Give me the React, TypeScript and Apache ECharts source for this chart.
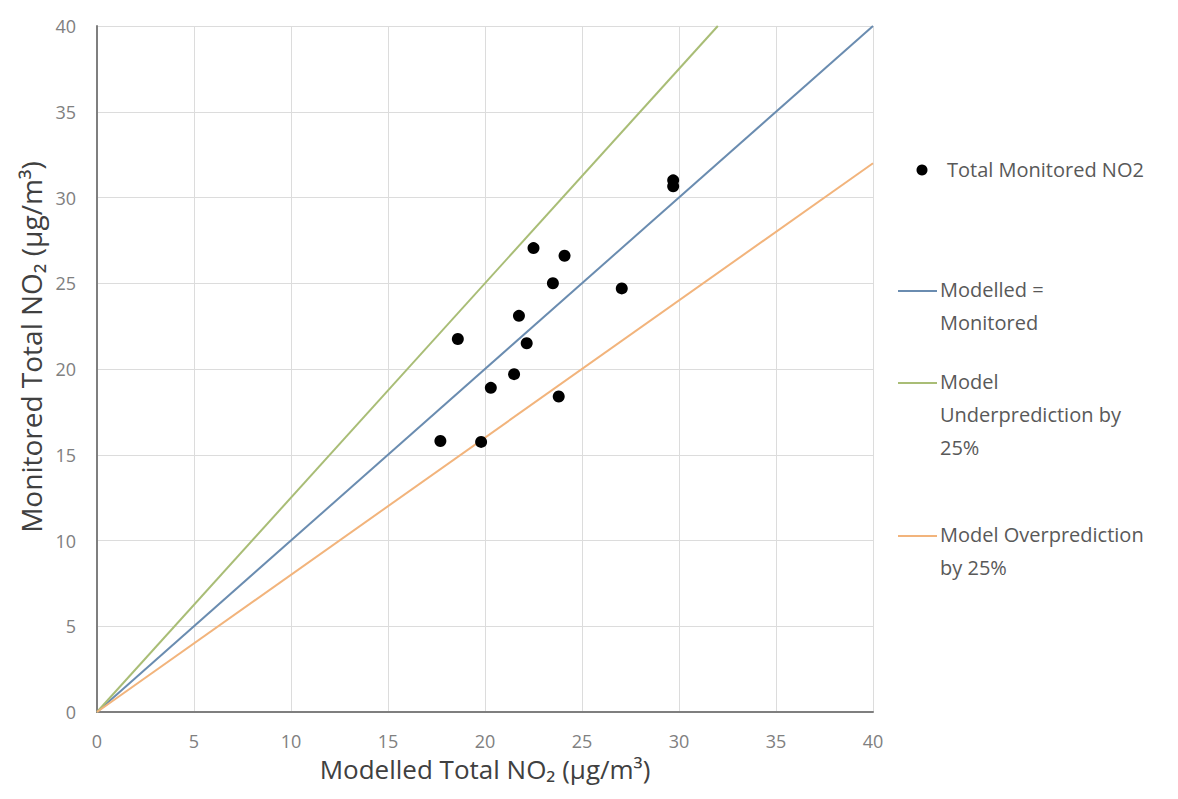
import React, { useEffect, useRef } from "react";
import * as echarts from "echarts";

const modelled = [22.5, 24.1, 23.5, 27.05, 21.75, 18.6, 22.15, 21.5, 20.3, 23.8, 17.7, 19.8, 29.7, 29.7];
const monitored = [27.05, 26.6, 25.0, 24.7, 23.1, 21.75, 21.5, 19.7, 18.9, 18.4, 15.8, 15.75, 31.0, 30.65];

const equalLine = [[0, 0], [40, 40]];
const underLine = [[0, 0], [32, 40]];
const overLine = [[0, 0], [40, 32]];

const seriesNames = ["Total Monitored NO2", "Modelled =\nMonitored", "Model\nUnderprediction by\n25%", "Model Overprediction\nby 25%"];

const COL_DOT = "#000000";
const COL_EQ = "#6a8cb0";
const COL_UNDER = "#a9bd76";
const COL_OVER = "#f2b47c";

const FONT = "'Open Sans', 'Noto Sans', sans-serif";

export default function App() {
  const ref = useRef<HTMLDivElement>(null);
  useEffect(() => {
    if (!ref.current) return;
    const chart = echarts.init(ref.current, undefined, { renderer: "svg" });
    const points = modelled.map((m, i) => [m, monitored[i]]);
    const legendText = (x: number, y: number, text: string) => ({
      type: "text",
      left: x,
      top: y,
      style: { text, font: `20px ${FONT}`, fill: "#595959", lineHeight: 33 },
    });
    const legendLine = (y: number, color: string) => ({
      type: "line",
      shape: { x1: 898, y1: y, x2: 937, y2: y },
      style: { stroke: color, lineWidth: 2 },
    });
    chart.setOption({
      animation: false,
      backgroundColor: "#ffffff",
      grid: { left: 97, right: 305, top: 26, bottom: 87 },
      xAxis: {
        type: "value",
        min: 0,
        max: 40,
        interval: 5,
        name: "Modelled Total NO₂ (µg/m³)",
        nameLocation: "middle",
        nameGap: 44,
        nameTextStyle: { fontFamily: FONT, fontSize: 26, color: "#404040" },
        axisLine: { show: true, lineStyle: { color: "#7f7f7f", width: 2 } },
        axisTick: { show: false },
        axisLabel: { fontFamily: FONT, fontSize: 18, color: "#808080", margin: 20 },
        splitLine: { show: true, lineStyle: { color: "#dcdcdc", width: 1 } },
      },
      yAxis: {
        type: "value",
        min: 0,
        max: 40,
        interval: 5,
        name: "Monitored Total NO₂ (µg/m³)",
        nameLocation: "middle",
        nameGap: 52,
        nameTextStyle: { fontFamily: FONT, fontSize: 28, color: "#404040", padding: [0, 0, 0, 44] },
        axisLine: { show: true, lineStyle: { color: "#7f7f7f", width: 2 } },
        axisTick: { show: false },
        axisLabel: { fontFamily: FONT, fontSize: 18, color: "#808080", margin: 21 },
        splitLine: { show: true, lineStyle: { color: "#dcdcdc", width: 1 } },
      },
      series: [
        {
          name: seriesNames[1],
          type: "line",
          data: equalLine,
          symbol: "none",
          lineStyle: { color: COL_EQ, width: 2 },
          z: 2,
        },
        {
          name: seriesNames[2],
          type: "line",
          data: underLine,
          symbol: "none",
          lineStyle: { color: COL_UNDER, width: 2 },
          z: 2,
        },
        {
          name: seriesNames[3],
          type: "line",
          data: overLine,
          symbol: "none",
          lineStyle: { color: COL_OVER, width: 2 },
          z: 2,
        },
        {
          name: seriesNames[0],
          type: "scatter",
          data: points,
          symbolSize: 12,
          itemStyle: { color: COL_DOT, opacity: 1 },
          z: 3,
        },
      ],
      graphic: [
        { type: "circle", shape: { cx: 922, cy: 170, r: 5.5 }, style: { fill: COL_DOT } },
        legendText(947, 153, seriesNames[0]),
        legendLine(291, COL_EQ),
        legendText(940, 273, seriesNames[1]),
        legendLine(383, COL_UNDER),
        legendText(940, 365, seriesNames[2]),
        legendLine(536, COL_OVER),
        legendText(940, 518, seriesNames[3]),
      ],
    });
    return () => chart.dispose();
  }, []);
  return (
    <div
      ref={ref}
      style={{ position: "fixed", left: 0, top: 0, width: 1178, height: 799, background: "#fff" }}
    />
  );
}
